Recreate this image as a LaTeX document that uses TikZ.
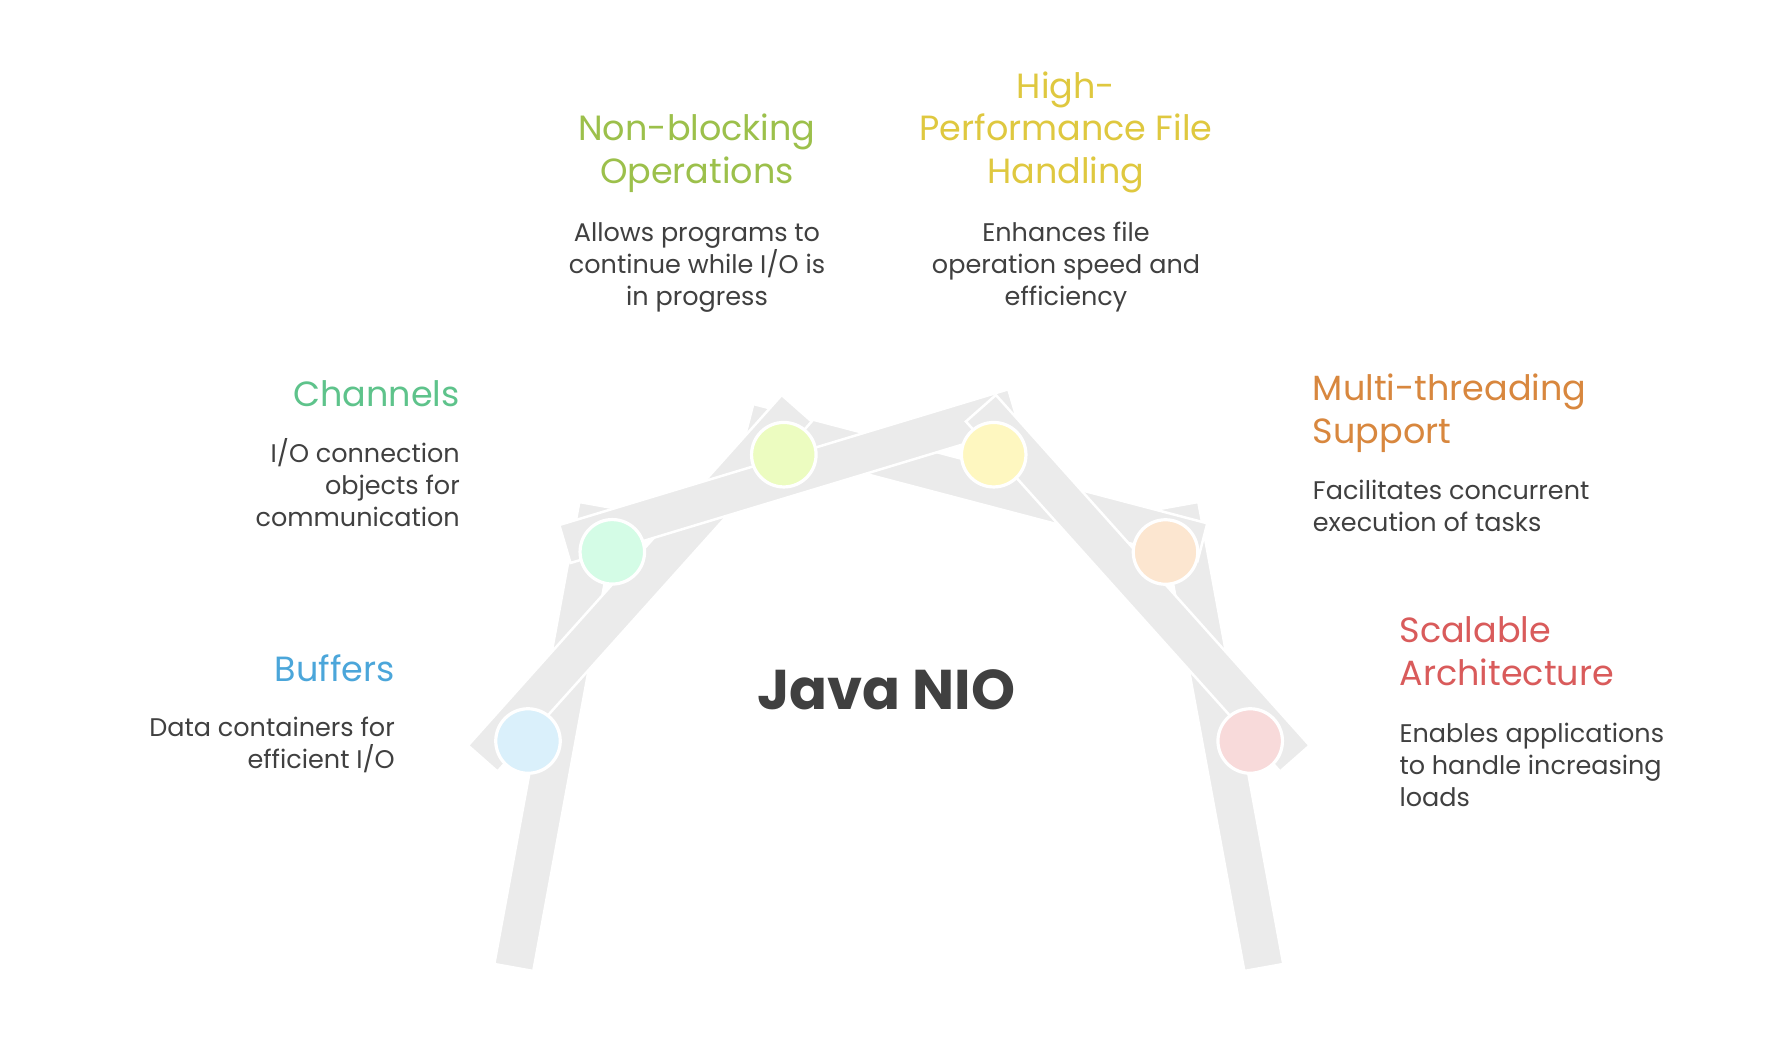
\documentclass[tikz,border=0pt]{standalone}
\usepackage{fontspec}
\setmainfont{Poppins}
\definecolor{barg}{HTML}{EBEBEB}
\definecolor{cblue}{HTML}{DAF0FB}
\definecolor{cgreen}{HTML}{D4FCE6}
\definecolor{clime}{HTML}{ECFCC0}
\definecolor{cyellow}{HTML}{FEF7C0}
\definecolor{corange}{HTML}{FCE6D0}
\definecolor{cred}{HTML}{F8DADA}
\definecolor{tblue}{HTML}{4BA6DA}
\definecolor{tgreen}{HTML}{5EC38B}
\definecolor{tlime}{HTML}{9CC04B}
\definecolor{tyellow}{HTML}{DFC83F}
\definecolor{torange}{HTML}{D8873E}
\definecolor{tred}{HTML}{D95B5B}
\definecolor{txt}{HTML}{404040}
\begin{document}
\begin{tikzpicture}[x=1pt,y=-1pt,
  bar/.style={fill=barg, draw=white, line width=2.5pt, line join=miter},
  dot/.style={circle, draw=white, line width=3.2pt, minimum size=64.5pt, inner sep=0pt},
  head/.style={font=\fontsize{35}{42.5}\selectfont, inner sep=0pt},
  body/.style={font=\fontsize{25.5}{32}\selectfont, text=txt, inner sep=0pt}]
\useasboundingbox[fill=white] (0,0) rectangle (1780,1046);
% bars (bottom to top)
\draw[bar] (494.3,964) -- (533.3,971) -- (618.3,509) -- (579.3,502) -- cycle;
\draw[bar] (1283.3,964) -- (1244.3,971) -- (1159.3,509) -- (1198.3,502) -- cycle;
\draw[bar] (753.3,404) -- (1207.3,523.3) -- (1197.5,561.1) -- (743.5,441.8) -- cycle;
\draw[bar] (468,745.5) -- (497.5,771.5) -- (811.7,421.5) -- (781.7,395) -- cycle;
\draw[bar] (559.3,525) -- (1008.3,389.3) -- (1019.5,427.3) -- (570.5,563) -- cycle;
\draw[bar] (1309.6,745.5) -- (1280.1,771.5) -- (965.9,421.5) -- (995.9,395) -- cycle;
% joints
\node[dot, fill=cblue] (buf) at (528,741) {};
\node[dot, fill=cgreen] (chan) at (612.3,551.8) {};
\node[dot, fill=clime] (nonb) at (783.8,454.7) {};
\node[dot, fill=cyellow] (hpf) at (993.7,454.7) {};
\node[dot, fill=corange] (mult) at (1165.5,552) {};
\node[dot, fill=cred] (scal) at (1250.2,741) {};
% title
\node[font=\fontsize{56}{62}\selectfont\bfseries, text=txt, anchor=base, inner sep=0pt] (title) at (886.5,709) {Java NIO};
% labels (anchor base = baseline of the last line)
\node[head, text=tblue, anchor=base east] (bufh) at (395,681.7) {Buffers};
\node[body, anchor=base east, align=right] (bufd) at (395,768.3) {Data containers for\\efficient I/O};
\node[head, text=tgreen, anchor=base east] (chanh) at (460,406) {Channels};
\node[body, anchor=base east, align=right] (chand) at (460,526.7) {I/O connection\\objects for\\communication};
\node[head, text=tlime, anchor=base, align=center] (nonbh) at (697,183.3) {Non-blocking\\Operations};
\node[body, anchor=base, align=center] (nonbd) at (697,305.5) {Allows programs to\\continue while I/O is\\in progress};
\node[head, text=tyellow, anchor=base, align=center] (hpfh) at (1066,183.3) {High-\\Performance File\\Handling};
\node[body, anchor=base, align=center] (hpfd) at (1066,305.5) {Enhances file\\operation speed and\\efficiency};
\node[head, text=torange, anchor=base west, align=left] (multh) at (1312.7,443.3) {Multi-threading\\Support};
\node[body, anchor=base west, align=left] (multd) at (1312.7,531) {Facilitates concurrent\\execution of tasks};
\node[head, text=tred, anchor=base west, align=left] (scalh) at (1399.3,685) {Scalable\\Architecture};
\node[body, anchor=base west, align=left] (scald) at (1399.3,806.7) {Enables applications\\to handle increasing\\loads};
\end{tikzpicture}
\end{document}
